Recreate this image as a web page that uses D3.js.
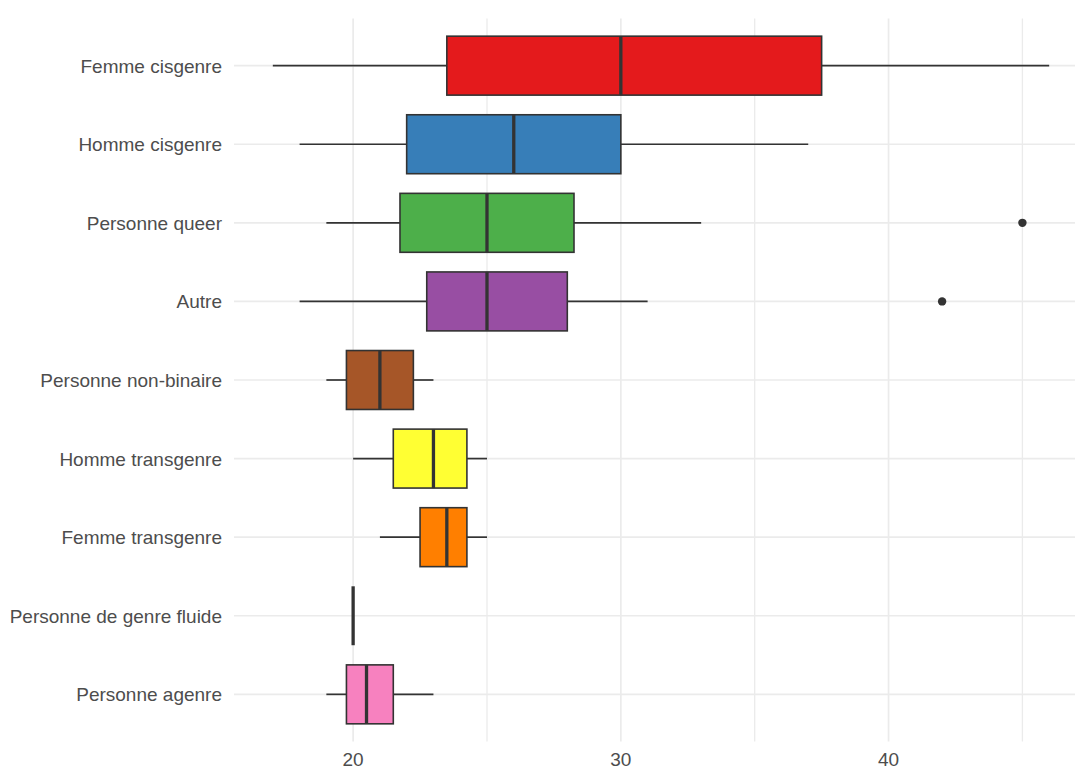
<!DOCTYPE html>
<html>
<head>
<meta charset="utf-8">
<script src="https://cdn.jsdelivr.net/npm/d3@7"></script>
<style>
  html, body { margin: 0; padding: 0; background: #ffffff; }
  svg { display: block; }
</style>
</head>
<body>
<svg id="chart" width="1075" height="769"></svg>
<script>
const categories = ["Femme cisgenre", "Homme cisgenre", "Personne queer", "Autre",
  "Personne non-binaire", "Homme transgenre", "Femme transgenre",
  "Personne de genre fluide", "Personne agenre"];
const whiskerLow  = [17, 18, 19, 18, 19, 20, 21, 20, 19];
const q1          = [23.5, 22, 21.75, 22.75, 19.75, 21.5, 22.5, 20, 19.75];
const medians     = [30, 26, 25, 25, 21, 23, 23.5, 20, 20.5];
const q3          = [37.5, 30, 28.25, 28, 22.25, 24.25, 24.25, 20, 21.5];
const whiskerHigh = [46, 37, 33, 31, 23, 25, 25, 20, 23];
const outlierCategories = ["Personne queer", "Autre"];
const outlierValues = [45, 42];
const fills = ["#E41A1C", "#377EB8", "#4DAF4A", "#984EA3", "#A65628",
  "#FFFF33", "#FF7F00", "#999999", "#F781BF"];
const xTicks = [20, 30, 40];
const xMinorTicks = [25, 35, 45];

const rows = categories.map((c, i) => ({
  cat: c, lo: whiskerLow[i], q1: q1[i], med: medians[i], q3: q3[i], hi: whiskerHigh[i], fill: fills[i]
}));
const outliers = outlierCategories.map((c, i) => ({ cat: c, v: outlierValues[i] }));

const svg = d3.select("#chart");
const plot = { left: 234, right: 1088, top: 18.5, bottom: 741.5 };

const x = d3.scaleLinear().domain([15.55, 47.45]).range([plot.left, plot.right]);
const y = d3.scalePoint().domain(categories).range([plot.top, plot.bottom]).padding(0.6);
const boxH = y.step() * 0.75;

const grid = svg.append("g");
grid.selectAll("line.minor").data(xMinorTicks).join("line")
  .attr("x1", d => x(d)).attr("x2", d => x(d))
  .attr("y1", plot.top).attr("y2", plot.bottom)
  .attr("stroke", "#ebebeb").attr("stroke-width", 1.3);
grid.selectAll("line.major").data(xTicks).join("line")
  .attr("x1", d => x(d)).attr("x2", d => x(d))
  .attr("y1", plot.top).attr("y2", plot.bottom)
  .attr("stroke", "#ebebeb").attr("stroke-width", 1.7);
grid.selectAll("line.hmajor").data(categories).join("line")
  .attr("x1", plot.left).attr("x2", plot.right)
  .attr("y1", d => y(d)).attr("y2", d => y(d))
  .attr("stroke", "#ebebeb").attr("stroke-width", 1.6);

const ink = "#333333";
const g = svg.append("g");
// whiskers
g.selectAll("line.wl").data(rows).join("line")
  .attr("x1", d => x(d.lo)).attr("x2", d => x(d.q1))
  .attr("y1", d => y(d.cat)).attr("y2", d => y(d.cat))
  .attr("stroke", ink).attr("stroke-width", 1.7);
g.selectAll("line.wh").data(rows).join("line")
  .attr("x1", d => x(d.q3)).attr("x2", d => x(d.hi))
  .attr("y1", d => y(d.cat)).attr("y2", d => y(d.cat))
  .attr("stroke", ink).attr("stroke-width", 1.7);
// boxes
g.selectAll("rect.box").data(rows).join("rect")
  .attr("x", d => x(d.q1)).attr("width", d => x(d.q3) - x(d.q1))
  .attr("y", d => y(d.cat) - boxH / 2).attr("height", boxH)
  .attr("fill", d => d.fill).attr("stroke", ink).attr("stroke-width", 1.6);
// medians
g.selectAll("line.med").data(rows).join("line")
  .attr("x1", d => x(d.med)).attr("x2", d => x(d.med))
  .attr("y1", d => y(d.cat) - boxH / 2).attr("y2", d => y(d.cat) + boxH / 2)
  .attr("stroke", ink).attr("stroke-width", 3.3);
// outliers
g.selectAll("circle.out").data(outliers).join("circle")
  .attr("cx", d => x(d.v)).attr("cy", d => y(d.cat)).attr("r", 4.2)
  .attr("fill", ink);

// axis labels
const font = "'Liberation Sans', Arial, sans-serif";
svg.append("g").selectAll("text").data(categories).join("text")
  .attr("x", 222).attr("y", d => y(d) + 7)
  .attr("text-anchor", "end")
  .attr("font-family", font).attr("font-size", 19).attr("fill", "#4d4d4d")
  .text(d => d);
svg.append("g").selectAll("text").data(xTicks).join("text")
  .attr("x", d => x(d)).attr("y", 766)
  .attr("text-anchor", "middle")
  .attr("font-family", font).attr("font-size", 19).attr("fill", "#4d4d4d")
  .text(d => d);
</script>
</body>
</html>
